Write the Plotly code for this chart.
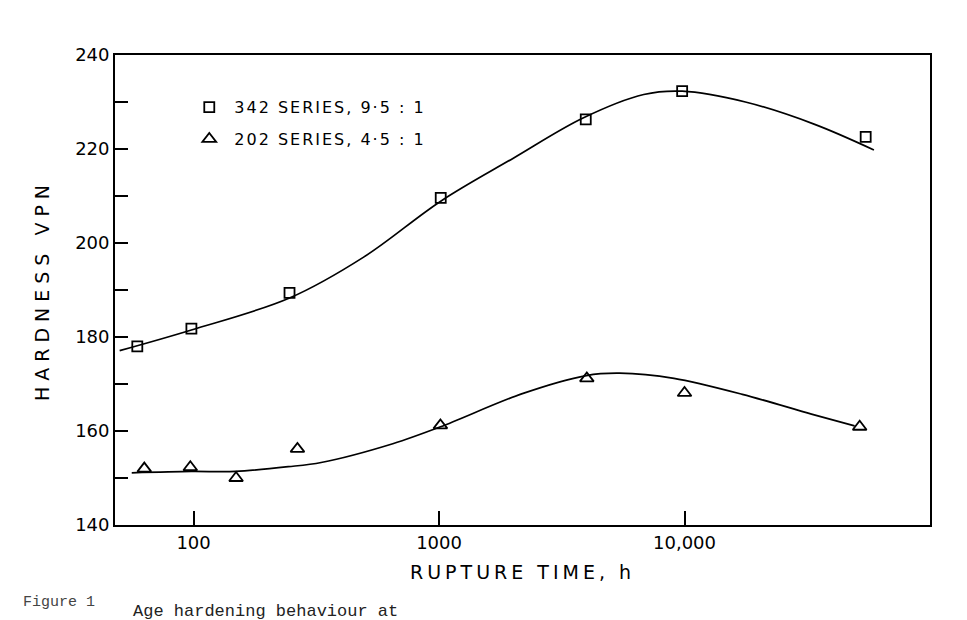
import plotly.graph_objects as go

# ---- data ----
# 342 series (squares)
time_342 = [59, 98, 246, 1016, 3960, 9780, 54700]
hard_342 = [178.0, 181.8, 189.4, 209.6, 226.3, 232.3, 222.6]
# 202 series (triangles)
time_202 = [63, 97, 149, 265, 1013, 4000, 10000, 51700]
hard_202 = [152.0, 152.3, 150.0, 156.2, 161.2, 171.2, 168.1, 160.9]

# hand-drawn fitted curves
curve_342_t = [50, 98, 246, 493, 1016, 2000, 3860, 6820, 9780, 17700, 33700, 59100]
curve_342_h = [177.1, 181.5, 188.3, 197.0, 208.9, 218.0, 226.6, 231.6, 232.3, 230.0, 225.3, 219.8]
curve_202_t = [56, 98, 148, 243, 331, 648, 1014, 2170, 3980, 5440, 9060, 17200, 32900, 49300]
curve_202_h = [151.1, 151.4, 151.4, 152.4, 153.3, 157.3, 160.9, 167.9, 171.8, 172.3, 171.2, 167.8, 163.6, 161.1]

x_tickvals = [100, 1000, 10000, 100000]
x_ticktext = ["100", "1000", "10,000", "100,000"]
y_tickvals = [140, 160, 180, 200, 220, 240]
y_minorvals = [150, 170, 190, 210, 230]

name_342 = "342 SERIES, 9·5 : 1"
name_202 = "202 SERIES, 4·5 : 1"

FONT = "DejaVu Sans"


def spaced(text, px):
    return '<span style="letter-spacing:%dpx">%s</span>' % (px, text)


fig = go.Figure()

fig.add_trace(go.Scatter(
    x=curve_342_t, y=curve_342_h, mode="lines",
    line=dict(color="black", width=1.7, shape="spline", smoothing=1.0),
    showlegend=False, hoverinfo="skip"))
fig.add_trace(go.Scatter(
    x=curve_202_t, y=curve_202_h, mode="lines",
    line=dict(color="black", width=1.7, shape="spline", smoothing=0.9),
    showlegend=False, hoverinfo="skip"))

fig.add_trace(go.Scatter(
    x=time_342, y=hard_342, mode="markers", name=spaced(name_342, 2), legendgroup="a",
    marker=dict(symbol="square-open", size=10, color="black", line=dict(width=1.8))))
fig.add_trace(go.Scatter(
    x=time_202, y=hard_202, mode="markers", name=spaced(name_202, 2), legendgroup="b",
    marker=dict(symbol="triangle-up-open", size=12, color="black", line=dict(width=1.8))))

fig.update_layout(
    width=967, height=620,
    margin=dict(l=115, r=37, t=55, b=95),
    paper_bgcolor="white", plot_bgcolor="white",
    font=dict(family=FONT, color="black", size=17),
    showlegend=True,
    legend=dict(x=0.085, y=0.925, xanchor="left", yanchor="top",
                bgcolor="rgba(0,0,0,0)", font=dict(family=FONT, size=16),
                tracegroupgap=8, itemwidth=40),
)

fig.update_xaxes(
    type="log", range=[1.68, 5.0],
    tickvals=x_tickvals, ticktext=x_ticktext,
    ticks="inside", ticklen=14, tickwidth=1.5, tickcolor="black",
    showline=True, linecolor="black", linewidth=1.8, mirror=True,
    showgrid=False, zeroline=False,
    tickfont=dict(family=FONT, size=18),
    title=dict(text=spaced("RUPTURE TIME, h", 4),
               font=dict(family=FONT, size=19), standoff=14),
)
fig.update_yaxes(
    range=[140, 240],
    tickvals=y_tickvals,
    ticks="inside", ticklen=13, tickwidth=1.5, tickcolor="black",
    minor=dict(tickvals=y_minorvals, ticks="inside", ticklen=13, tickwidth=1.5, tickcolor="black"),
    showline=True, linecolor="black", linewidth=1.8, mirror=True,
    showgrid=False, zeroline=False,
    tickfont=dict(family=FONT, size=18),
    title=dict(text=spaced("HARDNESS VPN", 6),
               font=dict(family=FONT, size=19), standoff=20),
)

fig.add_annotation(xref="paper", yref="paper", x=-0.115, y=-0.165,
                   xanchor="left", yanchor="middle", showarrow=False,
                   text="Figure 1", font=dict(family="Liberation Mono", size=15, color="#444"))
fig.add_annotation(xref="paper", yref="paper", x=0.02, y=-0.185,
                   xanchor="left", yanchor="middle", showarrow=False,
                   text="Age hardening behaviour at",
                   font=dict(family="Liberation Mono", size=17, color="#222"))

fig.write_html("out.html")
